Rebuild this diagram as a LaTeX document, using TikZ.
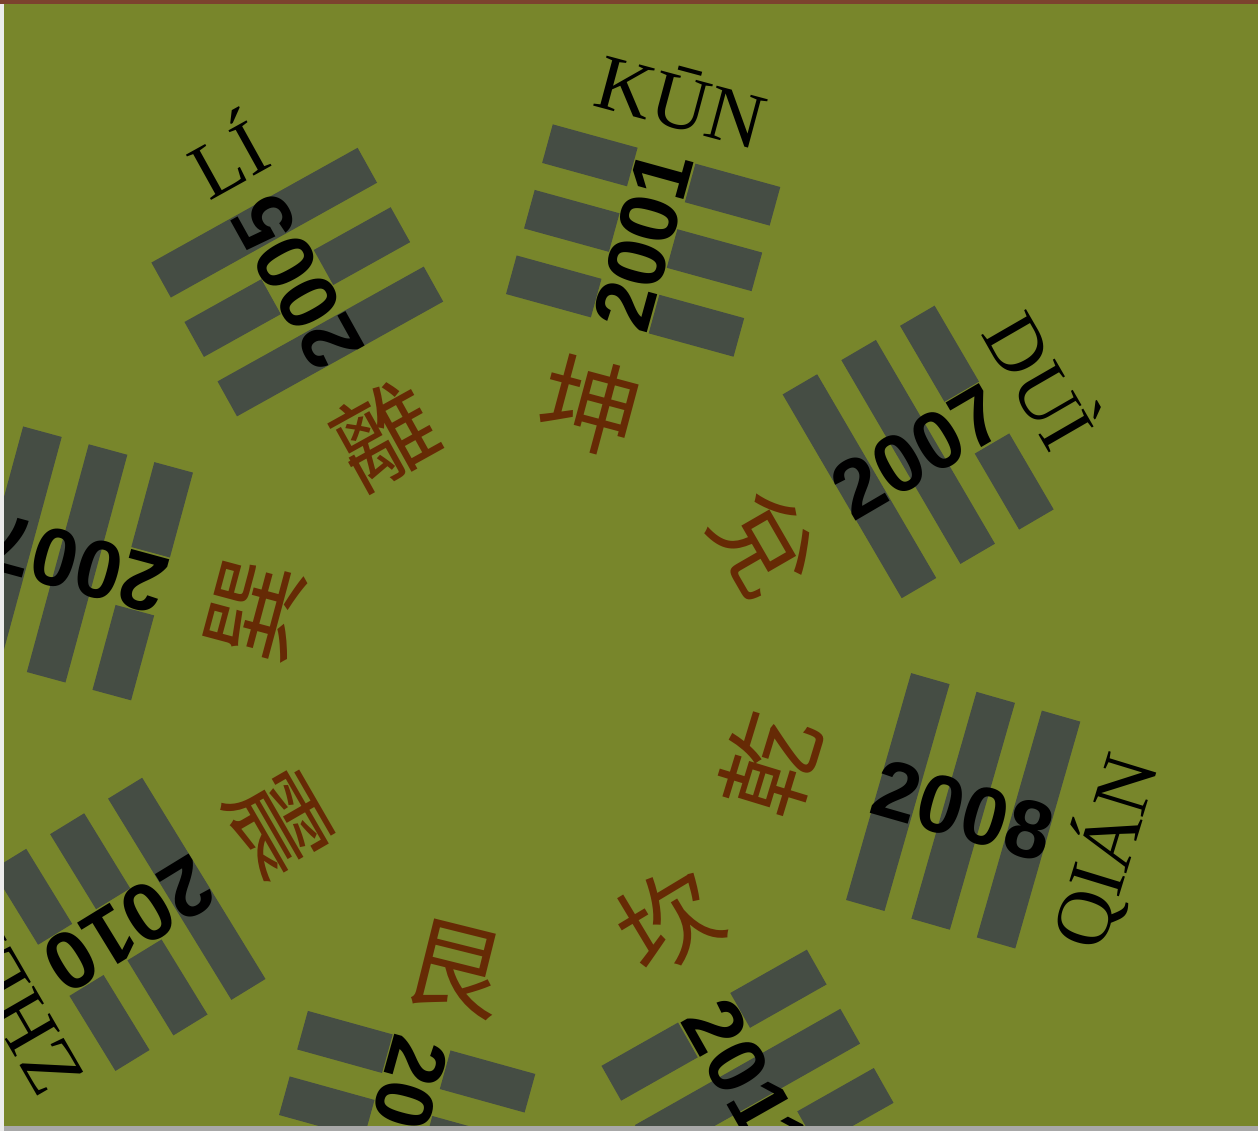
\documentclass[tikz,border=0pt]{standalone}
\usepackage{fontspec}
\setmainfont{Liberation Serif}
\newfontfamily\numfont{Liberation Sans}
\newfontfamily\cjk{Noto Sans CJK TC}
\usetikzlibrary{calc}
\definecolor{bgcol}{RGB}{120,134,43}
\definecolor{barcol}{RGB}{69,77,68}
\definecolor{hanzicol}{RGB}{102,42,5}
\definecolor{topstrip}{RGB}{124,66,46}
\definecolor{botstrip}{RGB}{168,168,168}
\definecolor{leftstrip}{RGB}{236,236,236}
\tikzset{
  barpiece/.style={fill=barcol, draw=none},
  yearlabel/.style={font=\numfont\bfseries\fontsize{82}{82}\selectfont, text=black, inner sep=0pt},
  namelabel/.style={font=\fontsize{79}{79}\selectfont, text=black, inner sep=0pt},
  hanzilabel/.style={font=\cjk\fontsize{100}{100}\selectfont, text=hanzicol, inner sep=0pt},
}
\newcommand\tgline[2]{%
  \ifnum#2=1
    \fill[barpiece] (#1-20,-118) rectangle (#1+20,118);
  \else
    \fill[barpiece] (#1-20,-118) rectangle (#1+20,-30);
    \fill[barpiece] (#1-20,30) rectangle (#1+20,118);
  \fi}
\begin{document}
\begin{tikzpicture}[x=1pt,y=1pt]
\useasboundingbox (0,0) rectangle (1258,1130);
\begin{scope}
\clip (-6,-6) rectangle (1264,1136);
\fill[bgcol] (-6,-6) rectangle (1264,1136);
\coordinate (C) at (521,446);
\foreach \id/\ang/\tp/\md/\bt/\yr/\nm/\nrot/\hz/\hrot/\hang/\hrad in {
  kun/74.6/0/0/0/2001/KŪN/-15/坤/-15/76/287,
  dui/30.3/0/1/1/2007/DUÌ/-60/兌/-60/30/280,
  qian/-16/1/1/1/2008/QIÁN/73/乾/73/-18/262,
  kan/-60.5/0/1/0/2011/KǍN/30/坎/31/-58/279,
  gen/-105.5/1/0/0/2004/GÈN/-15/艮/-14/-103/293,
  zhen/-148.5/0/0/1/2010/ZHÈN/120/震/-60/-150/279,
  xun/164.8/1/1/0/2007/XÙN/75/巽/75/164.5/276,
  li/119.1/1/0/1/2005/LÍ/29/離/29/118.6/284}{
  \begin{scope}[shift={(C)}, rotate=\ang]
    \tgline{528}{\tp}
    \tgline{460}{\md}
    \tgline{392}{\bt}
  \end{scope}
  \node[yearlabel, rotate=\ang] (yr-\id) at ($(C)+(\ang:460)$) {\yr};
  \node[namelabel, rotate=\nrot] (nm-\id) at ($(C)+(\ang:607)$) {\nm};
  \node[hanzilabel, rotate=\hrot] (hz-\id) at ($(C)+(\hang:\hrad)$) {\hz};
}
\fill[topstrip] (-6,1126) rectangle (1264,1136);
\fill[botstrip] (-6,-6) rectangle (1264,4);
\fill[leftstrip] (-6,-6) rectangle (4,1126);
\end{scope}
\end{tikzpicture}
\end{document}
